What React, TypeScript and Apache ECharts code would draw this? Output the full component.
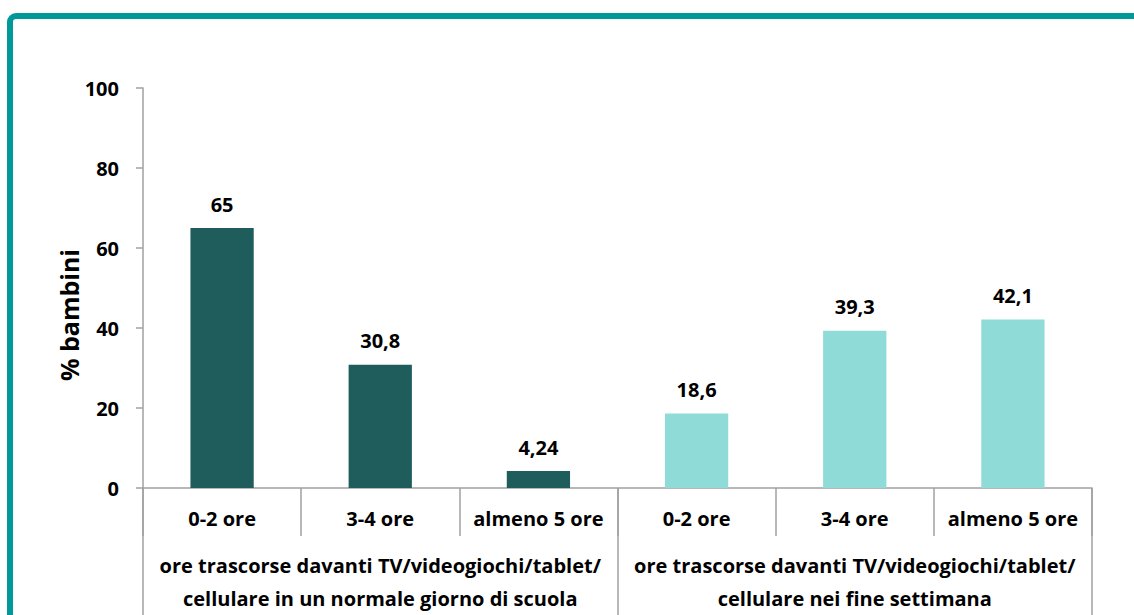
import React, { useEffect, useRef } from "react";
import * as echarts from "echarts";

const categories = ["0-2 ore", "3-4 ore", "almeno 5 ore", "0-2 ore", "3-4 ore", "almeno 5 ore"];
const groups = [
  "ore trascorse davanti TV/videogiochi/tablet/\ncellulare in un normale giorno di scuola",
  "ore trascorse davanti TV/videogiochi/tablet/\ncellulare nei fine settimana",
];
const values = [65, 30.8, 4.24, 18.6, 39.3, 42.1];
const groupOf = [0, 0, 0, 1, 1, 1];
const groupColors = ["#1F5C5C", "#8FDBD8"];
const yTicks = [0, 20, 40, 60, 80, 100];

const FONT = "'Open Sans', sans-serif";

export default function App() {
  const ref = useRef<HTMLDivElement>(null);
  useEffect(() => {
    if (!ref.current) return;
    const chart = echarts.init(ref.current, null, { renderer: "svg" });
    chart.setOption({
      animation: false,
      textStyle: { fontFamily: FONT },
      grid: { left: 143, right: 42, top: 88, bottom: 125, containLabel: false },
      graphic: [
        {
          type: "rect",
          shape: { x: 10, y: 16, width: 1300, height: 800, r: 6 },
          style: { fill: "none", stroke: "#009999", lineWidth: 6 },
          silent: true,
        },
        {
          type: "text",
          x: 69,
          y: 315,
          rotation: Math.PI / 2,
          style: {
            text: "% bambini",
            fontFamily: FONT,
            fontWeight: "bold",
            fontSize: 25,
            fill: "#000",
            align: "center",
            verticalAlign: "middle",
          },
        },
      ],
      xAxis: [
        {
          type: "category",
          data: categories,
          position: "bottom",
          axisLine: { show: true, lineStyle: { color: "#A0A0A0", width: 1.5 } },
          axisTick: { show: true, interval: 0, length: 48, lineStyle: { color: "#A0A0A0", width: 1.5 } },
          axisLabel: {
            interval: 0,
            margin: 20,
            fontFamily: FONT,
            fontWeight: "bold",
            fontSize: 20,
            color: "#000",
          },
        },
        {
          type: "category",
          data: groups,
          position: "bottom",
          gridIndex: 0,
          axisLine: { show: false },
          axisTick: { show: true, interval: 0, length: 140, lineStyle: { color: "#A0A0A0", width: 1.5 } },
          axisLabel: {
            interval: 0,
            margin: 61,
            fontFamily: FONT,
            fontWeight: "bold",
            fontSize: 20,
            lineHeight: 33,
            color: "#000",
            align: "center",
          },
        },
      ],
      yAxis: {
        type: "value",
        min: 0,
        max: 100,
        interval: 20,
        axisLine: { show: true, lineStyle: { color: "#A0A0A0", width: 1.5 } },
        axisTick: { show: true, length: 7, lineStyle: { color: "#A0A0A0", width: 1.5 } },
        splitLine: { show: false },
        axisLabel: {
          margin: 24,
          fontFamily: FONT,
          fontWeight: "bold",
          fontSize: 20,
          color: "#000",
          customValues: yTicks,
        },
      },
      series: [
        {
          type: "bar",
          xAxisIndex: 0,
          barWidth: "40%",
          data: values.map((v, i) => ({ value: v, itemStyle: { color: groupColors[groupOf[i]] } })),
          label: {
            show: true,
            position: "top",
            distance: 14,
            fontFamily: FONT,
            fontWeight: "bold",
            fontSize: 20,
            color: "#000",
            formatter: (p: any) => String(p.value).replace(".", ","),
          },
        },
      ],
    });
    return () => chart.dispose();
  }, []);
  return (
    <div
      ref={ref}
      style={{ position: "fixed", left: 0, top: 0, width: 1134, height: 615, background: "#fff" }}
    />
  );
}
